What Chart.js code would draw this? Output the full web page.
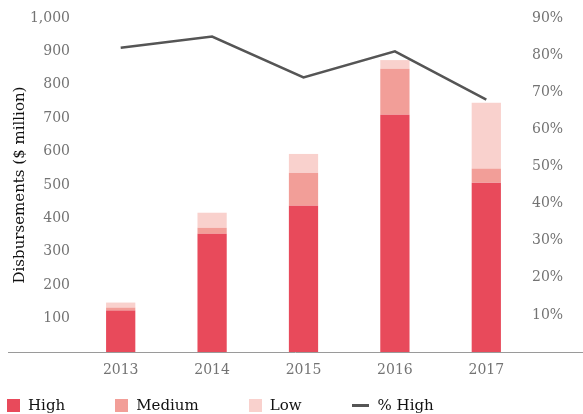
<!DOCTYPE html>
<html><head><meta charset="utf-8">
<script src="https://cdn.jsdelivr.net/npm/chart.js@4/dist/chart.umd.min.js"></script>
<style>
html,body{margin:0;padding:0;background:#fff;}
#wrap{position:relative;width:583px;height:414px;overflow:hidden;}
#c{position:absolute;left:0;top:0;}
#legend{position:absolute;left:7px;top:396px;display:flex;align-items:center;font-family:'DejaVu Serif';font-size:15px;color:#111;line-height:18px;white-space:nowrap;}
.item{display:flex;align-items:center;margin-right:50px;}
.sw{width:13px;height:13px;margin-right:8px;}
.ln{width:17px;height:3px;margin-right:9px;}
</style></head><body>
<div id="wrap"><canvas id="c" width="583" height="414" style="width:583px;height:414px"></canvas><div id="legend"></div></div>
<script>
const years = ['2013', '2014', '2015', '2016', '2017'];
const highValues = [124, 354, 438, 710, 507];
const mediumValues = [9, 18, 99, 138, 42];
const lowValues = [15, 45, 56, 26, 197];
const pctHighValues = [0.82, 0.85, 0.74, 0.81, 0.68];
const leftTicks = [100, 200, 300, 400, 500, 600, 700, 800, 900, 1000];
const rightTicks = [0.1, 0.2, 0.3, 0.4, 0.5, 0.6, 0.7, 0.8, 0.9];

const COLORS = { high: '#E84A5B', medium: '#F29E98', low: '#F9D1CD', line: '#555555' };
const TICK_COLOR = '#737373';
const FONT = 'DejaVu Serif';

const axisLine = {
  id: 'axisLine',
  beforeDatasetsDraw(chart) {
    const ctx = chart.ctx, y = chart.chartArea.bottom + 0.5;
    ctx.save();
    ctx.strokeStyle = '#9a9a9a';
    ctx.lineWidth = 1;
    ctx.beginPath();
    ctx.moveTo(8, y);
    ctx.lineTo(583, y);
    ctx.stroke();
    ctx.restore();
  }
};

const chart = new Chart(document.getElementById('c'), {
  data: {
    labels: years,
    datasets: [
      { type: 'line', label: '% High', data: pctHighValues, yAxisID: 'y1', borderColor: COLORS.line, backgroundColor: COLORS.line, borderWidth: 2.5, pointRadius: 0, tension: 0, order: 0 },
      { type: 'bar', label: 'High', data: highValues, backgroundColor: COLORS.high, stack: 's', yAxisID: 'y', order: 1, barPercentage: 0.32, categoryPercentage: 1 },
      { type: 'bar', label: 'Medium', data: mediumValues, backgroundColor: COLORS.medium, stack: 's', yAxisID: 'y', order: 1, barPercentage: 0.32, categoryPercentage: 1 },
      { type: 'bar', label: 'Low', data: lowValues, backgroundColor: COLORS.low, stack: 's', yAxisID: 'y', order: 1, barPercentage: 0.32, categoryPercentage: 1 }
    ]
  },
  options: {
    responsive: false,
    animation: false,
    layout: { padding: { top: 18, bottom: 32, left: 0, right: 0 } },
    plugins: { legend: { display: false }, tooltip: { enabled: false } },
    scales: {
      x: {
        stacked: true,
        grid: { display: false, drawTicks: false },
        border: { display: false },
        ticks: { color: TICK_COLOR, font: { family: FONT, size: 14 }, padding: 10 },
        afterFit(s) { s.height = 30; }
      },
      y: {
        stacked: true,
        position: 'left',
        min: 0, max: 1000,
        grid: { display: false, drawTicks: false },
        border: { display: false },
        afterBuildTicks(s) { s.ticks = leftTicks.map(v => ({ value: v })); },
        ticks: { color: TICK_COLOR, font: { family: FONT, size: 14 }, padding: 5,
          callback: v => v.toLocaleString('en-US') },
        title: { display: true, text: 'Disbursements ($ million)', color: '#111', font: { family: FONT, size: 15 }, padding: { top: 11 } },
        afterFit(s) { s.width = 75; }
      },
      y1: {
        position: 'right',
        min: 0, max: 0.9,
        grid: { display: false, drawTicks: false },
        border: { display: false },
        afterBuildTicks(s) { s.ticks = rightTicks.map(v => ({ value: v })); },
        ticks: { color: TICK_COLOR, font: { family: FONT, size: 14 }, padding: 0,
          callback: v => Math.round(v * 100) + '%' },
        afterFit(s) { s.width = 51; }
      }
    }
  },
  plugins: [axisLine]
});

// HTML legend built from the chart datasets
const legendEl = document.getElementById('legend');
const orderIdx = [1, 2, 3, 0];
orderIdx.forEach(i => {
  const ds = chart.data.datasets[i];
  const item = document.createElement('div');
  item.className = 'item';
  const mark = document.createElement('span');
  mark.className = ds.type === 'line' ? 'ln' : 'sw';
  mark.style.background = ds.type === 'line' ? ds.borderColor : ds.backgroundColor;
  const txt = document.createElement('span');
  txt.textContent = ds.label;
  item.appendChild(mark);
  item.appendChild(txt);
  legendEl.appendChild(item);
});
</script>
</body></html>
